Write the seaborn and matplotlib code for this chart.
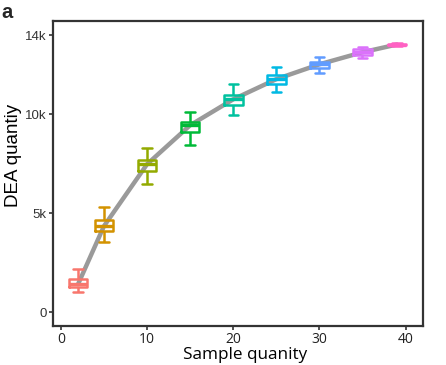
import matplotlib
matplotlib.use("Agg")
import numpy as np
import pandas as pd
import matplotlib.pyplot as plt
import seaborn as sns

# sample sizes and five-number summaries (DEA quantity, thousands)
samples = [2, 5, 10, 15, 20, 25, 30, 35, 39]
whisk_lo = [1.01, 3.54, 6.46, 8.43, 9.95, 11.10, 12.10, 12.83, 13.45]
q1 = [1.26, 4.09, 7.12, 9.09, 10.48, 11.50, 12.35, 12.98, 13.48]
med = [1.41, 4.34, 7.47, 9.44, 10.75, 11.77, 12.52, 13.13, 13.52]
q3 = [1.67, 4.65, 7.68, 9.60, 10.98, 11.97, 12.66, 13.30, 13.56]
whisk_hi = [2.17, 5.30, 8.28, 10.10, 11.55, 12.37, 12.88, 13.38, 13.60]
colors = ["#F8766D", "#D39200", "#93AA00", "#00BA38", "#00C19F",
          "#00B9E3", "#619CFF", "#DB72FB", "#FF61C3"]
yticks = [0, 5000, 10000, 14000]
ylabels = ["0", "5k", "10k", "14k"]

rows = []
for i, s in enumerate(samples):
    for v in (whisk_lo[i], q1[i], med[i], q3[i], whisk_hi[i]):
        rows.append({"samples": s, "dea": v * 1000})
df = pd.DataFrame(rows)
palette = dict(zip(samples, colors))

sns.set_style("white")
plt.rcParams["font.family"] = ["Liberation Sans", "DejaVu Sans"]

fig, ax = plt.subplots(figsize=(4.46, 3.65), dpi=100)
fig.subplots_adjust(left=0.119, right=0.948, bottom=0.107, top=0.942)

# trend line through medians
sns.lineplot(x=samples, y=[m * 1000 for m in med], color="#9a9a9a",
             linewidth=3.2, ax=ax, zorder=1)

sns.boxplot(data=df, x="samples", y="dea", hue="samples", palette=palette,
            native_scale=True, dodge=False, width=0.72, whis=(0, 100),
            fill=False, linewidth=1.8, legend=False, ax=ax,
            medianprops={"linewidth": 2.4})
for p in ax.patches:
    p.set_facecolor("white")
    p.set_zorder(2)

ax.set_xlim(-0.9, 42)
ax.set_ylim(-700, 14700)
ax.set_xticks([0, 10, 20, 30, 40])
ax.set_xticklabels(["0", "10", "20", "30", "40"], family="Open Sans",
                   fontsize=10, color="#222222")
ax.set_yticks(yticks)
ax.set_yticklabels(ylabels, fontsize=9.5, color="#333333")
ax.tick_params(bottom=True, left=True, direction="out", length=3, width=1.2,
               color="#333333", pad=1.5)
for sp in ax.spines.values():
    sp.set_visible(True)
    sp.set_color("#333333")
    sp.set_linewidth(1.6)

ax.set_xlabel("Sample quanity", family="Open Sans", fontsize=12.3, color="black")
ax.xaxis.set_label_coords(0.519, -0.068)
ax.set_ylabel("DEA quantiy", fontsize=13.5, color="black")
ax.yaxis.set_label_coords(-0.085, 0.56)

fig.text(0.003, 0.951, "a", fontsize=14.5, fontweight="bold", va="baseline")

fig.savefig("out.png", dpi=100)
